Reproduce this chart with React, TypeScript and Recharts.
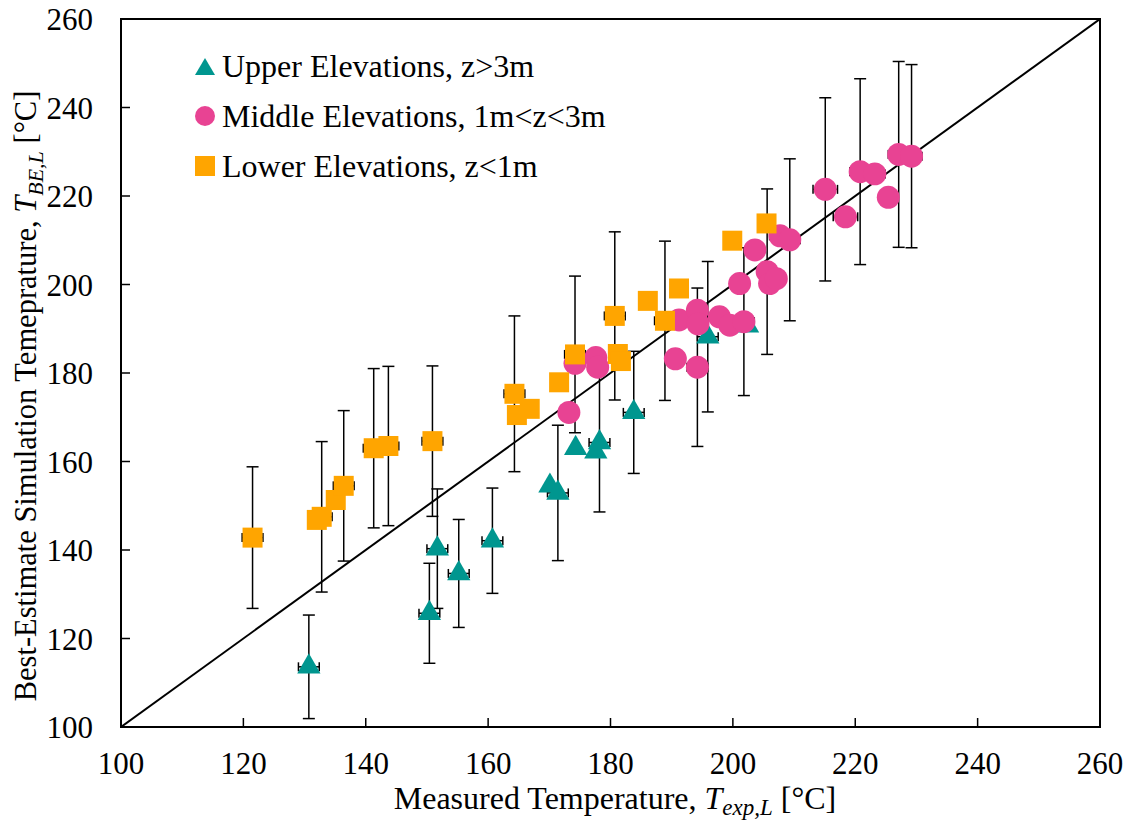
import React from 'react';
import {
  ScatterChart,
  Scatter,
  XAxis,
  YAxis,
  ErrorBar,
  ReferenceArea,
  Legend,
  Symbols,
} from 'recharts';

const FONT = '"Liberation Serif", "Times New Roman", serif';

// axis ticks (both axes share the same range)
const axisTicks = [100, 120, 140, 160, 180, 200, 220, 240, 260];

// 1:1 parity line
const parityX = [100, 260];
const parityY = [100, 260];

// Upper elevations, z>3m
const upperX = [130.7, 150.4, 151.7, 155.2, 160.7, 170.1, 171.4, 174.3, 177.6, 178.2, 183.8, 195.9, 202.4];
const upperY = [113.6, 125.7, 140.3, 134.7, 142.1, 154.5, 152.9, 163.0, 162.2, 164.3, 171.1, 188.2, 190.7];
const upperErrY = [11.7, 11.3, 13.5, 12.2, 11.9, 0, 15.3, 0, 0, 15.7, 13.8, 17.0, 0];
const upperErrX = [1.7, 1.7, 1.7, 1.7, 1.7, 0, 1.7, 0, 0, 1.7, 1.7, 1.7, 0];

// Middle elevations, 1m<z<3m
const middleX = [173.2, 174.2, 177.6, 177.9, 190.6, 194.2, 191.2, 194.2, 194.3, 197.8, 199.5, 201.8, 201.1, 203.6, 205.6, 206.0, 207.1, 207.7, 209.3, 215.1, 218.4, 220.8, 223.2, 225.4, 227.1, 229.2];
const middleY = [171.1, 182.2, 183.5, 181.3, 183.2, 181.3, 192.0, 194.2, 191.1, 192.7, 190.8, 191.6, 200.2, 207.8, 202.9, 200.2, 201.3, 211.0, 210.1, 221.5, 215.3, 225.5, 225.0, 219.7, 229.4, 229.0];
const middleErrY = [0, 0, 0, 0, 0, 17.9, 0, 0, 0, 0, 0, 16.7, 0, 0, 18.7, 0, 0, 0, 18.3, 20.7, 0, 21.0, 0, 0, 21.0, 20.7];
const middleErrX = [0, 0, 0, 0, 0, 1.7, 0, 0, 0, 0, 0, 1.7, 0, 0, 0, 0, 0, 1.7, 1.7, 2.0, 2.0, 1.7, 1.7, 0, 1.7, 1.7];

// Lower elevations, z<1m
const lowerX = [121.5, 132.0, 132.8, 135.1, 136.4, 141.3, 143.7, 150.9, 164.3, 164.7, 166.8, 171.6, 174.2, 180.7, 181.2, 181.7, 186.1, 188.9, 191.2, 199.9, 205.5];
const lowerY = [142.8, 146.8, 147.5, 151.3, 154.5, 163.0, 163.5, 164.6, 175.3, 170.5, 171.9, 177.9, 184.2, 192.9, 184.3, 182.7, 196.3, 191.8, 199.1, 209.9, 213.8];
const lowerErrY = [16.0, 0, 17.0, 0, 17.0, 18.0, 18.0, 17.0, 17.6, 0, 0, 0, 17.7, 19.0, 0, 0, 0, 18.0, 0, 0, 0];
const lowerErrX = [1.7, 0, 1.7, 0, 1.7, 1.7, 1.7, 1.7, 1.7, 0, 0, 0, 1.7, 1.7, 0, 0, 0, 1.7, 0, 0, 0];

const toPoints = (xs: number[], ys: number[], exs: number[], eys: number[]) =>
  xs.map((x, i) => ({ x, y: ys[i], ex: exs[i], ey: eys[i] }));

const parityData = parityX.map((x, i) => ({ x, y: parityY[i] }));

type Shape = 'triangle' | 'circle' | 'square';

const series: { id: string; name: string; color: string; shape: Shape; area: number; data: any[] }[] = [
  { id: 'upper', name: 'Upper Elevations, z>3m', color: '#00968F', shape: 'triangle', area: 235, data: toPoints(upperX, upperY, upperErrX, upperErrY) },
  { id: 'middle', name: 'Middle Elevations, 1m<z<3m', color: '#E84393', shape: 'circle', area: 415, data: toPoints(middleX, middleY, middleErrX, middleErrY) },
  { id: 'lower', name: 'Lower Elevations, z<1m', color: '#FFA500', shape: 'square', area: 400, data: toPoints(lowerX, lowerY, lowerErrX, lowerErrY) },
];

function LegendIcon({ shape, color }: { shape: Shape; color: string }) {
  if (shape === 'triangle') return <polygon points="10,2 20,19 0,19" fill={color} />;
  if (shape === 'circle') return <circle cx={10} cy={10} r={10} fill={color} />;
  return <rect x={0} y={0} width={20} height={20} fill={color} />;
}

function LegendBox() {
  return (
    <div style={{ fontFamily: FONT, fontSize: 32, color: '#000' }}>
      {series.map((s) => (
        <div key={s.id} style={{ display: 'flex', alignItems: 'center', height: 50, whiteSpace: 'nowrap' }}>
          <svg width={20} height={20} style={{ marginRight: 7, flex: 'none' }}>
            <LegendIcon shape={s.shape} color={s.color} />
          </svg>
          <span style={{ lineHeight: '50px' }}>{s.name}</span>
        </div>
      ))}
    </div>
  );
}

// axis titles, placed where the original has them
function XTitle() {
  return (
    <text x={615} y={809} textAnchor="middle" fontFamily={FONT} fontSize={32} fill="#000">
      {'Measured Temperature, '}
      <tspan fontStyle="italic">T</tspan>
      <tspan fontStyle="italic" fontSize={23} dy={6}>exp,L</tspan>
      <tspan dy={-6}>{' [°C]'}</tspan>
    </text>
  );
}

function YTitle() {
  const cx = 36;
  const cy = 396;
  return (
    <text x={cx} y={cy} transform={`rotate(-90, ${cx}, ${cy})`} textAnchor="middle" fontFamily={FONT} fontSize={30.5} fill="#000">
      {'Best-Estimate Simulation Temeprature, '}
      <tspan fontStyle="italic">T</tspan>
      <tspan fontStyle="italic" fontSize={22} dy={7}>BE,L</tspan>
      <tspan dy={-7}>{' [°C]'}</tspan>
    </text>
  );
}

const markerShape = (shape: Shape, area: number, color: string) => (p: any) =>
  <Symbols cx={p.cx} cy={p.cy} type={shape} size={area} fill={color} />;

const tickStyle = { fill: '#000', fontSize: 31, fontFamily: FONT };

export default function App() {
  return (
    <div style={{ position: 'absolute', left: 0, top: 0, background: '#fff' }}>
      <ScatterChart width={1135} height={822} margin={{ top: 19, right: 35, bottom: 0, left: 0 }}>
        <XAxis
          type="number"
          dataKey="x"
          domain={[100, 260]}
          ticks={axisTicks}
          allowDataOverflow
          height={95}
          tickSize={-9}
          tickMargin={34}
          tick={tickStyle}
          axisLine={{ stroke: '#000', strokeWidth: 2 }}
          tickLine={{ stroke: '#000', strokeWidth: 1.5 }}
          label={XTitle}
        />
        <YAxis
          type="number"
          dataKey="y"
          domain={[100, 260]}
          ticks={axisTicks}
          allowDataOverflow
          width={121}
          tickSize={-9}
          tickMargin={37}
          tick={tickStyle}
          axisLine={{ stroke: '#000', strokeWidth: 2 }}
          tickLine={{ stroke: '#000', strokeWidth: 1.5 }}
          label={YTitle}
        />
        <ReferenceArea x1={100} x2={260} y1={100} y2={260} fill="none" stroke="#000" strokeWidth={2} />
        <Scatter
          data={parityData}
          line={{ stroke: '#000', strokeWidth: 2 }}
          shape={() => <g />}
          isAnimationActive={false}
          legendType="none"
        />
        {series.map((s) => (
          <Scatter
            key={s.id}
            name={s.name}
            data={s.data}
            shape={markerShape(s.shape, s.area, s.color)}
            fill={s.color}
            isAnimationActive={false}
          >
            <ErrorBar dataKey="ey" direction="y" width={6} stroke="#000" strokeWidth={1.5} isAnimationActive={false} />
            <ErrorBar dataKey="ex" direction="x" width={4.5} stroke="#000" strokeWidth={1.5} isAnimationActive={false} />
          </Scatter>
        ))}
        <Legend
          content={LegendBox}
          layout="vertical"
          align="center"
          verticalAlign="middle"
          wrapperStyle={{ left: 195, top: 41, width: 'auto' }}
        />
      </ScatterChart>
    </div>
  );
}
